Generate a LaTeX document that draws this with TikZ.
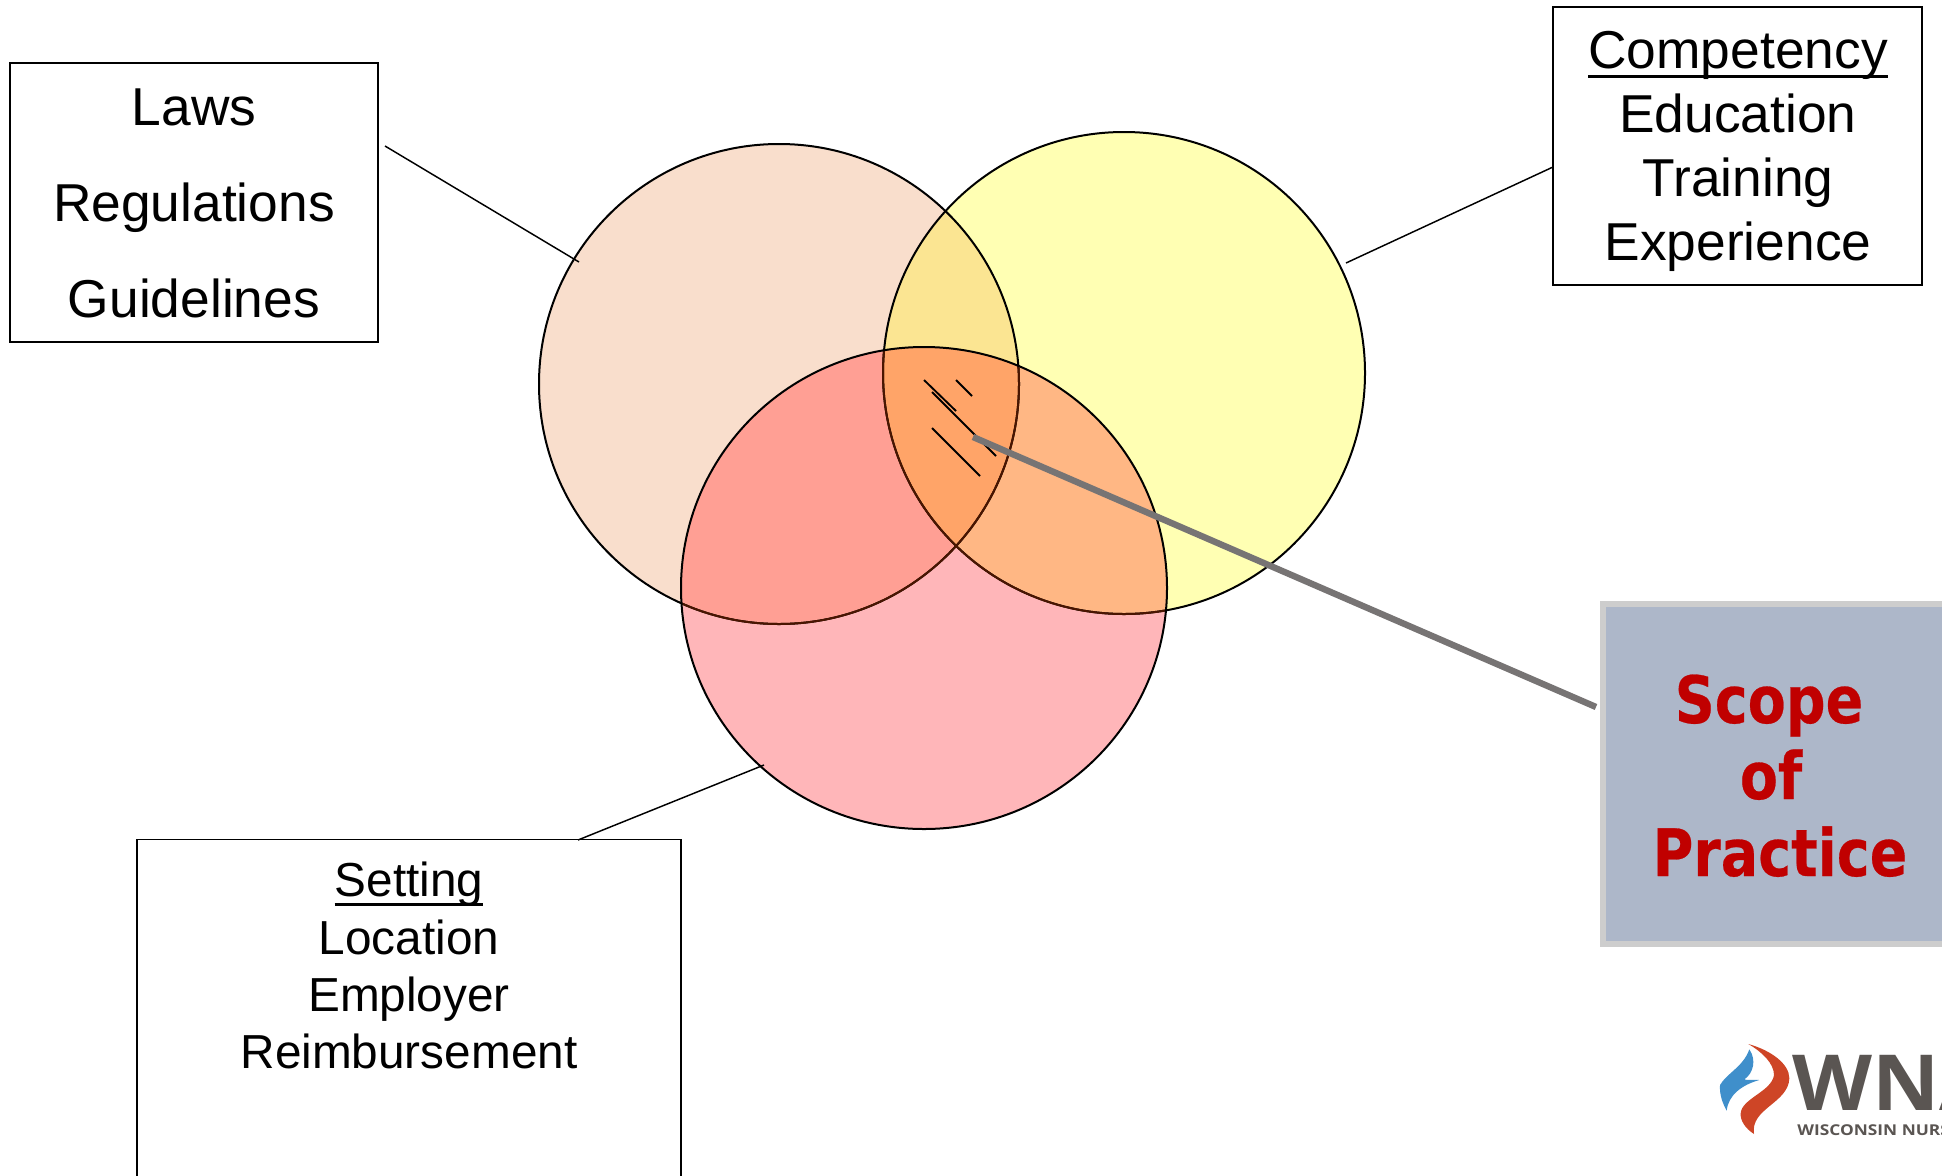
\documentclass[tikz,border=0pt]{standalone}
\usepackage{fontspec}
\usetikzlibrary{shapes.geometric}
\setmainfont{Liberation Sans}
\newfontfamily\scopefont[BoldFeatures={FakeBold=0.4}]{DejaVu Sans}
\newfontfamily\logofont{Open Sans}
\newcommand{\ulword}[1]{{\setbox0\hbox{#1}\rlap{\rule[-7.6pt]{\wd0}{2.1pt}}\box0}}
\definecolor{peachc}{HTML}{F9DECC}
\definecolor{yellowc}{HTML}{FFFFB3}
\definecolor{pinkc}{HTML}{FFB6B9}
\definecolor{peachyellow}{HTML}{FBE592}
\definecolor{peachpink}{HTML}{FF9F94}
\definecolor{yellowpink}{HTML}{FFB784}
\definecolor{allthree}{HTML}{FFA468}
\definecolor{maroonline}{HTML}{4A1500}
\definecolor{scopefill}{HTML}{ADB7C9}
\definecolor{scopeedge}{HTML}{CDCDCD}
\definecolor{pointer}{HTML}{777474}
\definecolor{scopered}{HTML}{C00000}
\definecolor{logogrey}{HTML}{5A5552}
\definecolor{logoblue}{HTML}{3F8FCB}
\definecolor{logored}{HTML}{CE4526}
\tikzset{
  venn/.style={circle,inner sep=0pt,outer sep=0pt,draw=black,line width=1.5pt},
  vennoval/.style={ellipse,inner sep=0pt,outer sep=0pt,draw=black,line width=1.5pt},
  infobox/.style={draw=black,line width=1.3pt,fill=white},
  lbl/.style={anchor=base,inner sep=0pt,font=\fontsize{40pt}{48pt}\selectfont},
  lblsmall/.style={anchor=base,inner sep=0pt,font=\fontsize{35.8pt}{43pt}\selectfont},
  lead/.style={draw=black,line width=1.1pt},
  hatch/.style={draw=black,line width=1.4pt},
  scopetxt/.style={anchor=base,inner sep=0pt,text=scopered,xscale=.85,transform shape,font=\fontsize{49pt}{58pt}\selectfont\scopefont\bfseries},
}
\def\pinkoval{ellipse [x radius=243,y radius=241]}
\begin{document}
\begin{tikzpicture}[x=0.75pt,y=-0.75pt]
\useasboundingbox (0,0) rectangle (1942,1175);
\clip (0,0) rectangle (1942,1175);
\coordinate (cA) at (779,384);
\coordinate (cB) at (1124,373);
\coordinate (cC) at (924,588);
% fills
\fill[peachc] (cA) circle (240);
\fill[yellowc] (cB) circle (241);
\fill[pinkc] (cC) \pinkoval;
\begin{scope}\clip (cA) circle (240);\fill[peachyellow] (cB) circle (241);\fill[peachpink] (cC) \pinkoval;\end{scope}
\begin{scope}\clip (cB) circle (241);\fill[yellowpink] (cC) \pinkoval;\end{scope}
\begin{scope}\clip (cA) circle (240);\clip (cB) circle (241);\fill[allthree] (cC) \pinkoval;\end{scope}
% outlines
\node[venn,minimum size=360pt] (laws) at (cA) {};
\node[venn,minimum size=361.5pt] (comp) at (cB) {};
\begin{scope}\clip (cC) \pinkoval;
\draw[maroonline,line width=1.5pt] (cA) circle (240);
\draw[maroonline,line width=1.5pt] (cB) circle (241);
\end{scope}
\node[vennoval,minimum width=364.5pt,minimum height=361.5pt] (sett) at (cC) {};
% boxes
\draw[infobox] (10,63) rectangle (378,342);
\draw[infobox] (1553,7) rectangle (1922,285);
\draw[infobox] (137,839.5) rectangle (681,1200);
\node[lbl] (t1) at (194,125) {Laws};
\node[lbl] (t2) at (194,221) {Regulations};
\node[lbl] (t3) at (194,317) {Guidelines};
\node[lbl] (c1) at (1738,68) {\ulword{Competency}};
\node[lbl] (c2) at (1738,132) {Education};
\node[lbl] (c3) at (1738,196) {Training};
\node[lbl] (c4) at (1738,260.5) {Experience};
\node[lblsmall] (s1) at (409,896) {\ulword{Setting}};
\node[lblsmall] (s2) at (409,954) {Location};
\node[lblsmall] (s3) at (409,1011) {Employer};
\node[lblsmall] (s4) at (409,1068) {Reimbursement};
% leaders
\coordinate (l1) at (385,146); \coordinate (l2) at (579,262);
\coordinate (m1) at (1553,167); \coordinate (m2) at (1346,263);
\coordinate (n1) at (578,840); \coordinate (n2) at (764,765);
\draw[lead] (l1) -- (l2);
\draw[lead] (m1) -- (m2);
\draw[lead] (n1) -- (n2);
% hatching
\coordinate (h1) at (924,380); \coordinate (h2) at (956,411);
\coordinate (h3) at (956,380); \coordinate (h4) at (972,396);
\coordinate (h5) at (932,392); \coordinate (h6) at (996,456);
\coordinate (h7) at (932,428); \coordinate (h8) at (980,476);
\draw[hatch] (h1) -- (h2);
\draw[hatch] (h3) -- (h4);
\draw[hatch] (h5) -- (h6);
\draw[hatch] (h7) -- (h8);
% scope box
\draw[fill=scopefill,draw=scopeedge,line width=4.5pt] (1603,604) rectangle (2000,944);
\node[scopetxt] (sc1) at (1769,723) {Scope};
\node[scopetxt] (sc2) at (1771,799) {of};
\node[scopetxt] (sc3) at (1780,876) {Practice};
\coordinate (p1) at (973,437); \coordinate (p2) at (1596,707);
\draw[pointer,line width=4.8pt] (p1) -- (p2);
% logo
\begin{scope}[shift={(1700,1020)},x=.25pt,y=-.25pt]
\fill[logoblue] (148,88) .. controls (130,140) and (80,160) .. (60,195) .. controls (58,225) and (68,250) .. (80,272) .. controls (85,225) and (125,195) .. (178,180) .. controls (160,178) and (140,182) .. (133,178) .. controls (160,160) and (170,120) .. (148,88) -- cycle;
\fill[logored] (145,72) .. controls (210,90) and (268,130) .. (268,175) .. controls (265,250) and (150,265) .. (162,342) .. controls (135,325) and (120,300) .. (122,280) .. controls (125,235) and (215,215) .. (222,165) .. controls (222,130) and (185,95) .. (145,72) -- cycle;
\end{scope}
\node[anchor=base west,inner sep=0pt,text=logogrey,xscale=1.07,transform shape,font=\fontsize{58pt}{66pt}\selectfont\logofont\bfseries] (wn) at (1792,1110) {WNA};
\node[anchor=base west,inner sep=0pt,text=logogrey,xscale=1.16,transform shape,font=\fontsize{11.2pt}{13pt}\selectfont\logofont\bfseries] (wns) at (1797,1135) {WISCONSIN NURSES ASSOCIATION};
\end{tikzpicture}
\end{document}
